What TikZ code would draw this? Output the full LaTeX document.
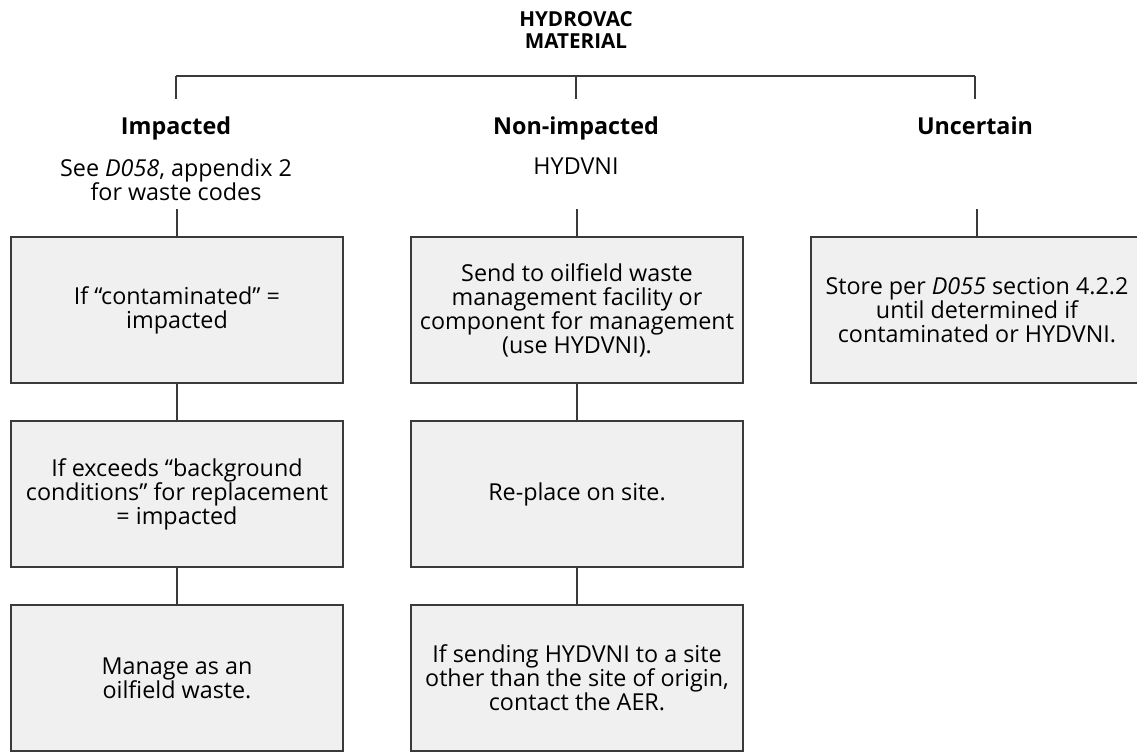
\documentclass[tikz,border=0pt]{standalone}
\usepackage{fontspec}
\setmainfont{Open Sans}
\definecolor{boxfill}{HTML}{F0F0F0}
\definecolor{boxline}{HTML}{3A3A3A}
\tikzset{
  box/.style={draw=boxline, fill=boxfill, line width=0.8pt, minimum width=249pt,
    minimum height=109.5pt, inner sep=0pt, align=center,
    font=\fontsize{17.5}{18}\selectfont},
  head/.style={inner sep=0pt, font=\bfseries\fontsize{17.5}{18}\selectfont},
  sub/.style={inner sep=0pt, align=center, font=\fontsize{17.5}{16.5}\selectfont},
  link/.style={draw=boxline, line width=0.8pt}
}
\begin{document}
\begin{tikzpicture}[x=0.75pt,y=-0.75pt]
\useasboundingbox (0,0) rectangle (1137,751);
\clip (0,0) rectangle (1137,751);

% title
\node[sub, anchor=north, font=\bfseries\fontsize{15.5}{16.5}\selectfont] (title) at (576,11) {HYDROVAC\\MATERIAL};
\coordinate (bar) at (576,76);
\coordinate (low) at (576,209);

% impacted
\node[head, anchor=base] (imp) at (176,134) {Impacted};
\node[sub, anchor=north] (impsub) at (176,158) {See \textit{D058}, appendix 2\\for waste codes};
\node[box] (b11) at (177,310) {If “contaminated” =\\impacted};
\node[box] (b21) at (177,494) {If exceeds “background\\conditions” for replacement\\= impacted};
\node[box] (b31) at (177,678) {Manage as an\\oilfield waste.};

% non-impacted
\node[head, anchor=base] (non) at (576,134) {Non-impacted};
\node[sub, anchor=north] (nonsub) at (576,158) {HYDVNI};
\node[box] (b12) at (577,310) {Send to oilfield waste\\management facility or\\component for management\\(use HYDVNI).};
\node[box] (b22) at (577,494) {Re-place on site.};
\node[box] (b32) at (577,678) {If sending HYDVNI to a site\\other than the site of origin,\\contact the AER.};

% uncertain
\node[head, anchor=base] (unc) at (975,134) {Uncertain};
\node[box] (b13) at (977,310) {Store per \textit{D055} section 4.2.2\\until determined if\\contaminated or HYDVNI.};

% connectors
\draw[link] (imp.north |- bar) -- (unc.north |- bar);
\foreach \n in {imp,non,unc}
  \draw[link, shorten <=13pt] (\n.north) -- (\n.north |- bar);
\foreach \b in {b11,b12,b13}
  \draw[link] (\b.north) -- (\b.north |- low);
\draw[link] (b11.south) -- (b21.north);
\draw[link] (b21.south) -- (b31.north);
\draw[link] (b12.south) -- (b22.north);
\draw[link] (b22.south) -- (b32.north);
\end{tikzpicture}
\end{document}
